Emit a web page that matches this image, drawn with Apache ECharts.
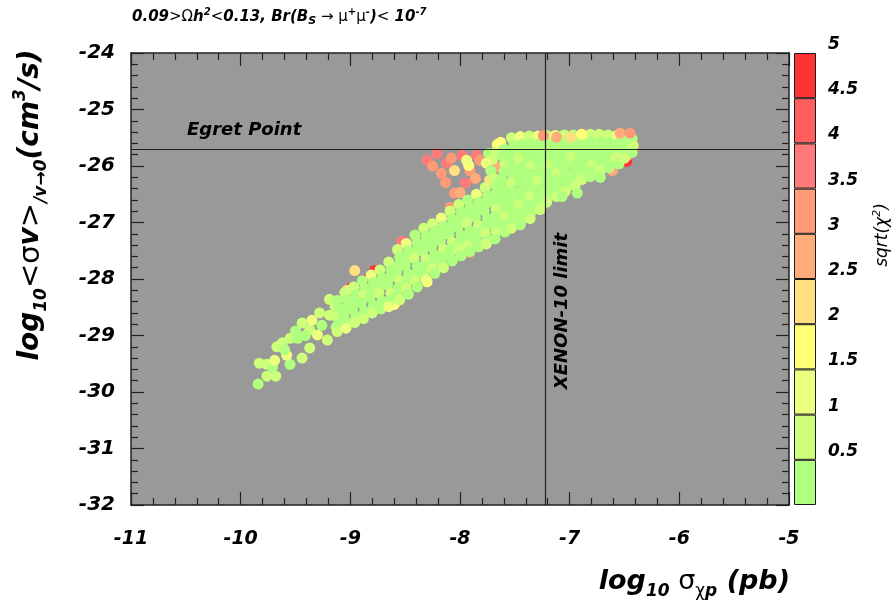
<!DOCTYPE html>
<html><head><meta charset="utf-8">
<script src="https://cdn.jsdelivr.net/npm/echarts@6/dist/echarts.min.js"></script>
<style>html,body{margin:0;padding:0;background:#fff}#c{width:893px;height:612px}</style>
</head><body><div id="c"></div>
<script>
// ---- axis / reference values ----
const xRange = [-11, -5];
const yRange = [-32, -24];
const egretY = -25.7;
const xenonX = -7.22;
const chiEdges = [0, 0.5, 1, 1.5, 2, 2.5, 3, 3.5, 4, 4.5, 5];
const chiColors = ['#b0ff7e', '#cdff7b', '#ecff7e', '#ffff78', '#ffdf80', '#ffac7a', '#ff9a78', '#ff7b7b', '#ff5f5f', '#ff3333'];

// ---- points [log10 sigma_p, log10 <sigma v>, sqrt(chi2)] ----
const rightEndRed = [
  [-6.48,-25.92,4.7],[-6.42,-25.69,4.4],[-6.47,-25.81,3.4],[-6.61,-26.08,2.8]
];
const edgeOutliers = [
  [-8.78,-27.85,4.8],[-8.87,-28.02,4.6],[-8.82,-28.16,4.9],[-8.99,-28.15,4.9],[-8.96,-27.85,2.2],[-9.03,-28.2,2.3],
  [-8.75,-28.48,2.1],[-8.41,-27.23,3.1],[-8.16,-27.05,3.2],[-8.53,-27.33,3.7],[-8.09,-26.73,3.0],[-7.91,-27.53,3.0],
  [-8.3,-28.05,1.8],[-8.6,-28.45,1.7]
];
const upperArm = [
  [-8.21,-25.78,3.6],[-8.12,-25.95,3.7],[-8.17,-26.13,3.3],[-8.13,-26.29,3.0],[-8.05,-26.48,3.2],[-8.0,-26.47,2.6],
  [-7.98,-25.81,3.8],[-7.85,-25.81,3.5],[-7.91,-26.08,3.3],[-7.86,-26.22,2.8],[-7.82,-25.9,3.1],[-7.73,-26.25,2.4],
  [-7.66,-26.02,2.9],[-7.92,-25.99,1.8],[-8.05,-26.08,2.0],[-8.3,-25.9,3.9],[-7.55,-25.82,3.8],[-7.45,-25.9,3.9],
  [-8.25,-26.0,3.4],[-8.08,-25.86,3.3],[-7.95,-26.3,3.5],
  [-7.74,-25.78,0.4],[-7.7,-25.88,0.6],[-7.76,-25.95,1.0],[-7.94,-25.9,1.4],[-7.72,-26.08,0.3]
];
const sparseTail = [
  [-9.84,-29.86,0.4],[-9.76,-29.72,0.6],[-9.68,-29.72,0.8],[-9.83,-29.49,0.5],[-9.76,-29.51,0.9],[-9.71,-29.56,0.4],
  [-9.69,-29.44,1.1],[-9.67,-29.2,0.5],[-9.62,-29.13,0.7],[-9.55,-29.05,0.6],[-9.48,-29.05,0.3],[-9.44,-29.4,0.8],
  [-9.55,-29.51,0.4],[-9.58,-29.35,1.2],[-9.44,-28.78,0.9],[-9.37,-28.9,0.5],[-9.3,-28.99,1.0],[-9.26,-28.82,0.4],
  [-9.21,-29.08,0.6],[-9.35,-28.73,1.3],[-9.19,-28.64,0.5],[-9.13,-28.85,0.3],[-9.14,-28.48,0.7],[-9.19,-28.36,0.8],
  [-9.5,-28.92,0.4],[-9.41,-29.0,0.3],[-9.6,-29.25,0.3],[-9.28,-28.6,0.6],[-9.37,-29.22,0.6]
];
const band = [
  [-9.12,-28.38,0.4],[-9.10,-28.52,0.3],[-9.13,-28.66,0.8],[-9.11,-28.8,0.3],[-9.12,-28.93,0.5],
  [-9.05,-28.24,0.6],[-9.03,-28.37,0.3],[-9.04,-28.51,0.2],[-9.06,-28.64,0.4],[-9.03,-28.77,0.3],[-9.04,-28.87,1.1],
  [-8.97,-28.14,0.9],[-8.95,-28.27,0.3],[-8.96,-28.41,0.3],[-8.98,-28.54,0.2],[-8.95,-28.66,0.4],[-8.96,-28.77,0.6],
  [-8.89,-28.03,0.3],[-8.87,-28.16,0.3],[-8.88,-28.3,0.7],[-8.9,-28.43,0.3],[-8.87,-28.57,0.2],[-8.88,-28.7,0.5],
  [-8.81,-27.93,1.2],[-8.79,-28.06,0.3],[-8.8,-28.2,0.2],[-8.82,-28.33,0.4],[-8.79,-28.47,0.3],[-8.8,-28.6,0.8],
  [-8.73,-27.84,0.5],[-8.71,-27.98,0.3],[-8.72,-28.12,0.2],[-8.74,-28.25,0.6],[-8.71,-28.39,0.3],[-8.72,-28.53,0.4],
  [-8.65,-27.7,0.9],[-8.63,-27.84,0.3],[-8.64,-27.98,0.3],[-8.66,-28.11,0.2],[-8.63,-28.25,0.5],[-8.64,-28.38,0.3],[-8.65,-28.49,1.3],
  [-8.57,-27.48,0.6],[-8.55,-27.61,0.3],[-8.56,-27.75,0.2],[-8.58,-27.88,0.3],[-8.55,-28.02,0.7],[-8.56,-28.15,0.3],[-8.57,-28.28,0.4],[-8.55,-28.37,0.9],
  [-8.49,-27.37,1.1],[-8.47,-27.5,0.3],[-8.48,-27.64,0.3],[-8.5,-27.77,0.2],[-8.47,-27.91,0.4],[-8.48,-28.04,0.3],[-8.49,-28.17,0.6],[-8.47,-28.27,0.3],
  [-8.41,-27.22,0.4],[-8.39,-27.36,0.3],[-8.4,-27.5,0.2],[-8.42,-27.63,0.5],[-8.39,-27.77,0.3],[-8.4,-27.9,0.3],[-8.41,-28.03,0.8],[-8.39,-28.14,0.4],
  [-8.33,-27.1,0.7],[-8.31,-27.24,0.3],[-8.32,-27.38,0.3],[-8.34,-27.51,0.2],[-8.31,-27.65,0.6],[-8.32,-27.78,0.3],[-8.33,-27.91,0.3],[-8.31,-28.01,1.0],
  [-8.25,-27.02,0.5],[-8.23,-27.16,0.3],[-8.24,-27.3,0.2],[-8.26,-27.43,0.3],[-8.23,-27.57,0.4],[-8.24,-27.7,0.3],[-8.25,-27.82,0.7],[-8.23,-27.9,0.3],
  [-8.17,-26.92,1.2],[-8.15,-27.06,0.3],[-8.16,-27.2,0.3],[-8.18,-27.33,0.2],[-8.15,-27.47,0.5],[-8.16,-27.6,0.3],[-8.17,-27.72,0.3],[-8.15,-27.8,0.8],
  [-8.09,-26.8,0.6],[-8.07,-26.94,0.3],[-8.08,-27.08,0.2],[-8.1,-27.21,0.3],[-8.07,-27.35,0.7],[-8.08,-27.48,0.3],[-8.09,-27.6,0.4],[-8.07,-27.68,0.3],
  [-8.01,-26.68,0.9],[-7.99,-26.82,0.3],[-8.0,-26.96,0.3],[-8.02,-27.09,0.2],[-7.99,-27.23,0.4],[-8.0,-27.36,0.3],[-8.01,-27.49,0.6],[-7.99,-27.59,0.3],
  [-7.93,-26.6,0.4],[-7.91,-26.74,0.3],[-7.92,-26.88,0.2],[-7.94,-27.01,0.5],[-7.91,-27.15,0.3],[-7.92,-27.28,0.3],[-7.93,-27.41,0.8],[-7.91,-27.51,0.3],
  [-7.85,-26.5,1.0],[-7.83,-26.64,0.3],[-7.84,-26.78,0.3],[-7.86,-26.91,0.2],[-7.83,-27.05,0.6],[-7.84,-27.18,0.3],[-7.85,-27.31,0.3],[-7.83,-27.43,0.4],
  [-7.77,-26.38,0.5],[-7.75,-26.52,0.3],[-7.76,-26.66,0.2],[-7.78,-26.79,0.3],[-7.75,-26.93,0.4],[-7.76,-27.06,0.3],[-7.77,-27.19,0.7],[-7.75,-27.32,0.3],[-7.76,-27.38,0.5],
  [-7.69,-26.22,0.8],[-7.67,-26.36,0.3],[-7.68,-26.5,0.3],[-7.7,-26.63,0.2],[-7.67,-26.77,0.5],[-7.68,-26.9,0.3],[-7.69,-27.03,0.3],[-7.67,-27.16,0.6],[-7.68,-27.29,0.3],
  [-7.66,-25.62,1.6],[-7.67,-25.74,0.5],[-7.64,-25.6,1.8],
  [-7.63,-25.58,1.7],[-7.6,-25.7,0.4],[-7.61,-25.83,0.3],[-7.59,-25.96,0.6],[-7.6,-26.1,0.3],[-7.62,-26.23,0.2],[-7.59,-26.37,0.3],[-7.6,-26.5,0.4],[-7.61,-26.64,0.3],[-7.59,-26.77,0.2],[-7.6,-26.9,0.5],[-7.61,-27.03,0.3],[-7.59,-27.17,0.3],
  [-7.53,-25.5,0.9],[-7.51,-25.63,0.3],[-7.52,-25.76,0.3],[-7.54,-25.9,0.2],[-7.51,-26.03,0.4],[-7.52,-26.17,0.3],[-7.53,-26.3,0.7],[-7.51,-26.44,0.3],[-7.52,-26.57,0.3],[-7.54,-26.71,0.2],[-7.51,-26.84,0.4],[-7.52,-26.97,0.3],[-7.53,-27.1,0.6],
  [-7.45,-25.48,1.3],[-7.43,-25.61,0.3],[-7.44,-25.74,0.3],[-7.46,-25.88,0.5],[-7.43,-26.01,0.3],[-7.44,-26.15,0.2],[-7.45,-26.28,0.3],[-7.43,-26.42,0.4],[-7.44,-26.55,0.3],[-7.46,-26.69,0.8],[-7.43,-26.82,0.3],[-7.44,-26.95,0.3],[-7.45,-27.04,0.4],
  [-7.37,-25.47,0.6],[-7.35,-25.6,0.3],[-7.36,-25.73,0.2],[-7.38,-25.87,0.3],[-7.35,-26.0,0.5],[-7.36,-26.14,0.3],[-7.37,-26.27,0.3],[-7.35,-26.41,0.2],[-7.36,-26.54,0.6],[-7.38,-26.68,0.3],[-7.35,-26.81,0.3],[-7.36,-26.93,0.9],
  [-7.29,-25.47,1.1],[-7.27,-25.6,0.3],[-7.28,-25.73,0.3],[-7.3,-25.87,0.2],[-7.27,-26.0,0.4],[-7.28,-26.14,0.3],[-7.29,-26.27,0.7],[-7.27,-26.41,0.3],[-7.28,-26.54,0.3],[-7.3,-26.67,0.2],[-7.27,-26.77,0.5],
  [-7.21,-25.46,0.5],[-7.19,-25.59,0.3],[-7.2,-25.72,0.2],[-7.22,-25.86,0.3],[-7.19,-25.99,0.6],[-7.2,-26.13,0.3],[-7.21,-26.26,0.3],[-7.19,-26.4,0.4],[-7.2,-26.53,0.3],[-7.21,-26.64,0.8],
  [-7.13,-25.46,1.4],[-7.11,-25.59,0.3],[-7.12,-25.72,0.3],[-7.14,-25.86,0.2],[-7.11,-25.99,0.3],[-7.12,-26.13,0.5],[-7.13,-26.26,0.3],[-7.11,-26.4,0.3],[-7.12,-26.54,0.6],
  [-7.05,-25.45,0.7],[-7.03,-25.58,0.3],[-7.04,-25.71,0.2],[-7.06,-25.85,0.3],[-7.03,-25.98,0.4],[-7.04,-26.12,0.3],[-7.05,-26.25,0.3],[-7.03,-26.38,0.2],[-7.04,-26.45,0.9],
  [-6.97,-25.45,0.4],[-6.95,-25.58,0.3],[-6.96,-25.71,0.3],[-6.98,-25.85,0.6],[-6.95,-25.98,0.3],[-6.96,-26.12,0.2],[-6.97,-26.25,0.3],[-6.95,-26.35,0.5],
  [-6.89,-25.44,1.2],[-6.87,-25.57,0.3],[-6.88,-25.7,0.2],[-6.9,-25.84,0.3],[-6.87,-25.97,0.4],[-6.88,-26.11,0.3],[-6.89,-26.24,0.7],
  [-6.81,-25.44,0.6],[-6.79,-25.57,0.3],[-6.8,-25.7,0.3],[-6.82,-25.84,0.2],[-6.79,-25.97,0.5],[-6.8,-26.1,0.3],[-6.81,-26.19,0.3],
  [-6.73,-25.44,0.9],[-6.71,-25.57,0.3],[-6.72,-25.7,0.2],[-6.74,-25.84,0.3],[-6.71,-25.97,0.3],[-6.72,-26.09,0.6],
  [-6.65,-25.45,0.5],[-6.63,-25.58,0.3],[-6.64,-25.71,0.3],[-6.66,-25.85,0.2],[-6.63,-25.97,0.4],[-6.64,-26.03,0.3],
  [-6.57,-25.46,1.1],[-6.55,-25.59,0.3],[-6.56,-25.72,0.3],[-6.58,-25.85,0.5],[-6.55,-25.96,0.3],
  [-6.49,-25.48,0.4],[-6.47,-25.61,0.3],[-6.48,-25.74,0.2],[-6.5,-25.86,0.6],
  [-6.43,-25.52,0.3],[-6.42,-25.64,0.5],[-6.43,-25.76,0.3],
  [-7.07,-26.54,0.4],[-6.93,-26.48,0.3],[-6.72,-26.2,0.3]
];
const topEdge = [
  [-7.24,-25.46,3.1],[-7.12,-25.49,2.8],[-6.99,-25.49,2.0],[-6.89,-25.44,1.6],[-6.54,-25.42,2.6],[-6.45,-25.42,3.0]
];

const allPoints = [].concat(rightEndRed, edgeOutliers, upperArm, sparseTail, band, topEdge);

const FF = 'DejaVu Sans';
const pieces = chiColors.map((c, i) => ({ gte: chiEdges[i], lt: chiEdges[i + 1], color: c }));

const cbSeries = chiColors.map((c, i) => ({
  type: 'bar', xAxisIndex: 2, yAxisIndex: 2, stack: 'cb', barWidth: '100%', silent: true,
  data: [chiEdges[i + 1] - chiEdges[i]],
  itemStyle: { color: c, borderColor: '#1a1a1a', borderWidth: 1 }
}));

const axisLineStyle = { color: '#222', width: 1.5 };
const tickCommon = { show: true, inside: true, length: 13, lineStyle: { color: '#222', width: 1.2 } };
const minorCommon = { show: true, splitNumber: 5, length: 7, lineStyle: { color: '#222', width: 1.2 } };

const sym = { fontFamily: FF, fontWeight: 'normal', fontStyle: 'normal', color: '#000' };

const option = {
  animation: false,
  backgroundColor: '#ffffff',
  grid: [
    { left: 131, top: 53, width: 658, height: 452, show: true, backgroundColor: '#999999', borderWidth: 0, z: 0 },
    { left: 794, top: 53, width: 22, height: 452, show: false }
  ],
  xAxis: [
    { type: 'value', gridIndex: 0, min: xRange[0], max: xRange[1], interval: 1, position: 'bottom', z: 5,
      axisLine: { show: true, onZero: false, lineStyle: axisLineStyle }, axisTick: tickCommon, minorTick: minorCommon,
      splitLine: { show: false }, minorSplitLine: { show: false },
      axisLabel: { fontFamily: FF, fontSize: 19, fontWeight: 'bold', fontStyle: 'italic', color: '#000', margin: 25 } },
    { type: 'value', gridIndex: 0, min: xRange[0], max: xRange[1], interval: 1, position: 'top', z: 5,
      axisLine: { show: true, onZero: false, lineStyle: axisLineStyle }, axisTick: tickCommon, minorTick: minorCommon,
      splitLine: { show: false }, axisLabel: { show: false } },
    { type: 'category', gridIndex: 1, data: ['c'], show: false }
  ],
  yAxis: [
    { type: 'value', gridIndex: 0, min: yRange[0], max: yRange[1], interval: 1, position: 'left', z: 5,
      axisLine: { show: true, onZero: false, lineStyle: axisLineStyle }, axisTick: tickCommon, minorTick: minorCommon,
      splitLine: { show: false },
      axisLabel: { fontFamily: FF, fontSize: 20, fontWeight: 'bold', fontStyle: 'italic', color: '#000', margin: 16 } },
    { type: 'value', gridIndex: 0, min: yRange[0], max: yRange[1], interval: 1, position: 'right', z: 5,
      axisLine: { show: true, onZero: false, lineStyle: axisLineStyle }, axisTick: tickCommon, minorTick: minorCommon,
      splitLine: { show: false }, axisLabel: { show: false } },
    { type: 'value', gridIndex: 1, min: chiEdges[0], max: chiEdges[chiEdges.length - 1], interval: 0.5, position: 'right',
      axisLine: { show: false }, axisTick: { show: false }, splitLine: { show: false },
      axisLabel: { fontFamily: FF, fontSize: 17, fontWeight: 'bold', fontStyle: 'italic', color: '#000', margin: 12,
        verticalAlign: 'bottom', formatter: v => (v === 0 ? '' : String(v)) } }
  ],
  visualMap: {
    type: 'piecewise', show: false, dimension: 2, seriesIndex: 0, pieces: pieces
  },
  series: [
    { type: 'scatter', xAxisIndex: 0, yAxisIndex: 0, data: allPoints, symbol: 'circle', symbolSize: 11, z: 2,
      itemStyle: { opacity: 1 }, silent: true,
      markLine: { silent: true, symbol: 'none', label: { show: false }, animation: false,
        lineStyle: { color: '#222', width: 1.2, type: 'solid' },
        data: [{ yAxis: egretY }, { xAxis: xenonX }] } }
  ].concat(cbSeries),
  graphic: [
    { type: 'text', x: 132, y: 17, z: 100, style: {
      text: '{b|0.09}{s|>Ω}{b|h}{sup|2}{s|<}{b|0.13, Br(B}{sub|S}{s| → μ}{sup|+}{s|μ}{sup|-}{b|)}{s|<}{b| 10}{sup|-7}',
      align: 'left', verticalAlign: 'middle',
      rich: {
        b: { fontFamily: FF, fontSize: 15, fontWeight: 'bold', fontStyle: 'italic', color: '#000', lineHeight: 20 },
        s: Object.assign({}, sym, { fontSize: 15, lineHeight: 20 }),
        sup: { fontFamily: FF, fontSize: 10, fontWeight: 'bold', fontStyle: 'italic', color: '#000', lineHeight: 11, verticalAlign: 'top' },
        sub: { fontFamily: FF, fontSize: 11, fontWeight: 'bold', fontStyle: 'italic', color: '#000', lineHeight: 11, verticalAlign: 'bottom' }
      } } },
    { type: 'text', x: 187, y: 130, z: 100, style: {
      text: 'Egret Point', align: 'left', verticalAlign: 'middle',
      font: 'italic bold 18px "DejaVu Sans"', fill: '#000' } },
    { type: 'text', x: 562, y: 311, rotation: Math.PI / 2, z: 100, style: {
      text: 'XENON-10 limit', align: 'center', verticalAlign: 'middle',
      font: 'italic bold 18px "DejaVu Sans"', fill: '#000' } },
    { type: 'text', x: 31, y: 205, rotation: Math.PI / 2, z: 100, style: {
      text: '{b|log}{sub|10}{s|<σ}{b|v}{s|>}{sub|/v→0}{b|(cm}{sup|3}{b|/s)}',
      align: 'center', verticalAlign: 'middle',
      rich: {
        b: { fontFamily: FF, fontSize: 28, fontWeight: 'bold', fontStyle: 'italic', color: '#000', lineHeight: 38 },
        s: Object.assign({}, sym, { fontSize: 29, lineHeight: 38 }),
        sup: { fontFamily: FF, fontSize: 17, fontWeight: 'bold', fontStyle: 'italic', color: '#000', lineHeight: 17, verticalAlign: 'top' },
        sub: { fontFamily: FF, fontSize: 17, fontWeight: 'bold', fontStyle: 'italic', color: '#000', lineHeight: 17, verticalAlign: 'bottom' }
      } } },
    { type: 'text', x: 790, y: 582, z: 100, style: {
      text: '{b|log}{sub|10}{s| σ}{gs|χ}{sub|p}{b| (pb)}',
      align: 'right', verticalAlign: 'middle',
      rich: {
        b: { fontFamily: FF, fontSize: 27, fontWeight: 'bold', fontStyle: 'italic', color: '#000', lineHeight: 36 },
        s: Object.assign({}, sym, { fontSize: 27, lineHeight: 36 }),
        gs: Object.assign({}, sym, { fontSize: 17, lineHeight: 17, verticalAlign: 'bottom' }),
        sub: { fontFamily: FF, fontSize: 17, fontWeight: 'bold', fontStyle: 'italic', color: '#000', lineHeight: 17, verticalAlign: 'bottom' }
      } } },
    { type: 'text', x: 883, y: 235, rotation: Math.PI / 2, z: 100, style: {
      text: '{t|sqrt(χ}{sup|2}{t|)}', align: 'center', verticalAlign: 'middle',
      rich: {
        t: { fontFamily: FF, fontSize: 17, fontStyle: 'italic', color: '#000', lineHeight: 22 },
        sup: { fontFamily: FF, fontSize: 11, fontStyle: 'italic', color: '#000', lineHeight: 11, verticalAlign: 'top' }
      } } }
  ]
};

const chart = echarts.init(document.getElementById('c'), null, { renderer: 'canvas' });
chart.setOption(option);
</script>
</body></html>
